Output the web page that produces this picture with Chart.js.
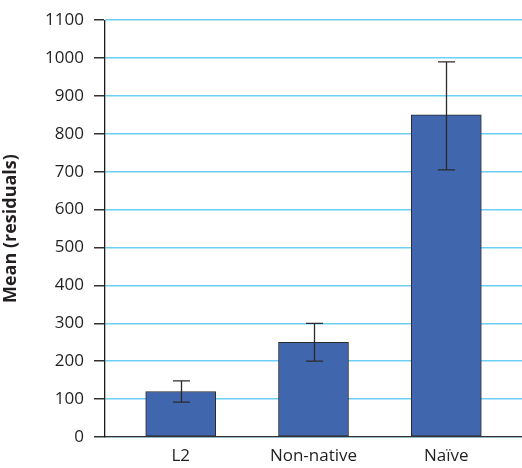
<!DOCTYPE html>
<html>
<head>
<meta charset="utf-8">
<script src="https://cdn.jsdelivr.net/npm/chart.js@4/dist/chart.umd.min.js"></script>
<style>
  html, body { margin: 0; padding: 0; background: #ffffff; }
  #wrap { width: 522px; height: 468px; position: relative; }
</style>
</head>
<body>
<div id="wrap"><canvas id="c" width="522" height="468"></canvas></div>
<script>
// Group means with their error-bar limits
const categories = ['L2', 'Non-native', 'Naïve'];
const means = [120, 250, 850];
const errLow = [92, 200, 705];
const errHigh = [148, 300, 990];
const yTicks = [0, 100, 200, 300, 400, 500, 600, 700, 800, 900, 1000, 1100];

const FONT = "'Open Sans', 'DejaVu Sans', sans-serif";
const INK = '#231f20';

// Draws the vertical whiskers with caps over each bar
const errorBars = {
  id: 'errorBars',
  afterDatasetsDraw(chart) {
    const { ctx, scales: { x, y } } = chart;
    ctx.save();
    ctx.strokeStyle = '#2b2b2b';
    ctx.lineWidth = 1.3;
    const cap = 8.5;
    means.forEach((m, i) => {
      const px = Math.round(x.getPixelForValue(i)) + 0.5;
      const top = y.getPixelForValue(errHigh[i]);
      const bot = y.getPixelForValue(errLow[i]);
      ctx.beginPath();
      ctx.moveTo(px, top); ctx.lineTo(px, bot);
      ctx.moveTo(px - cap, top); ctx.lineTo(px + cap, top);
      ctx.moveTo(px - cap, bot); ctx.lineTo(px + cap, bot);
      ctx.stroke();
    });
    ctx.restore();
  }
};

new Chart(document.getElementById('c'), {
  type: 'bar',
  data: {
    datasets: [{
      data: means.map((v, i) => ({ x: i, y: v })),
      backgroundColor: '#4066ae',
      borderColor: '#2b2b2b',
      borderWidth: 1,
      borderSkipped: false,
      barThickness: 70
    }]
  },
  plugins: [errorBars],
  options: {
    responsive: false,
    animation: false,
    layout: { padding: { top: 17, right: 0, left: 0, bottom: 0 } },
    plugins: { legend: { display: false }, tooltip: { enabled: false } },
    scales: {
      x: {
        type: 'linear',
        offset: false,
        min: -0.57,
        max: 2.57,
        afterBuildTicks(scale) { scale.ticks = categories.map((_, i) => ({ value: i })); },
        afterFit(scale) { scale.height = 31; },
        grid: { display: false, drawTicks: false },
        border: { color: '#333333', width: 1.3 },
        ticks: {
          padding: 9,
          color: INK,
          font: { family: FONT, size: 17 },
          maxRotation: 0,
          callback: (v) => categories[v]
        }
      },
      y: {
        min: 0,
        max: 1100,
        afterBuildTicks(scale) { scale.ticks = yTicks.map(v => ({ value: v })); },
        afterFit(scale) { scale.width = 105; },
        grid: {
          color: '#6dcff6',
          lineWidth: 1.5,
          tickColor: '#333333',
          tickLength: 11,
          drawTicks: true
        },
        border: { color: '#1a1a1a', width: 1.3 },
        ticks: {
          padding: 10,
          color: INK,
          font: { family: FONT, size: 17 },
          callback: (v) => String(v)
        },
        title: {
          display: true,
          text: 'Mean (residuals)',
          color: INK,
          font: { family: FONT, size: 18, weight: 'bold' },
          padding: { top: 0, bottom: 4 }
        }
      }
    }
  }
});
</script>
</body>
</html>
